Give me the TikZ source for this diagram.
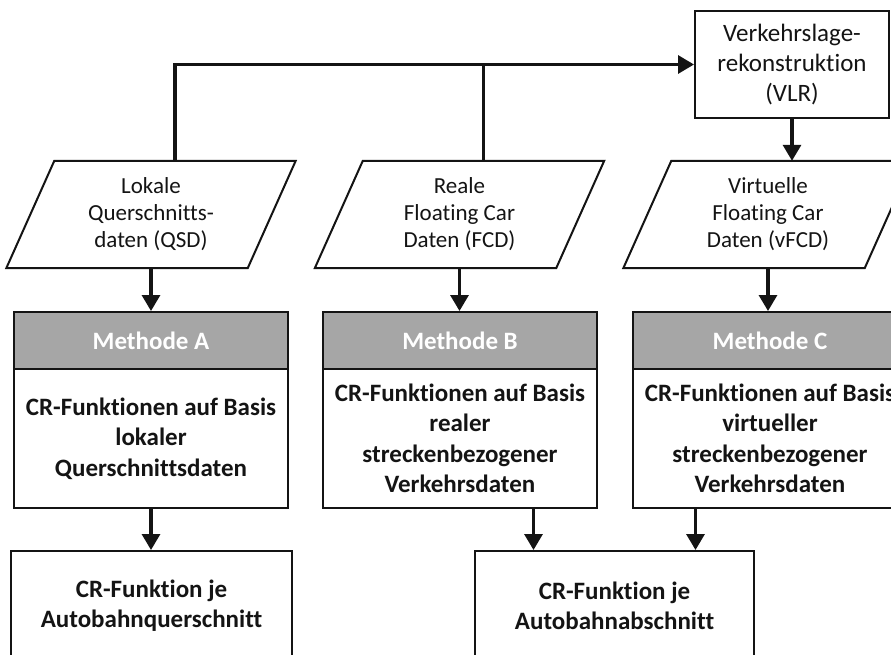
\documentclass[tikz,border=0pt]{standalone}
\usepackage{fontspec}
\setmainfont{Carlito}[Ligatures={NoCommon,NoContextual}]
\usetikzlibrary{arrows.meta}
\definecolor{ink}{HTML}{141414}
\definecolor{headgray}{HTML}{A6A6A6}
\begin{document}
\begin{tikzpicture}[x=1pt,y=-1pt,
  box/.style={draw=ink, line width=2pt, fill=white, inner sep=0pt, align=center},
  datanode/.style={inner sep=0pt, align=center, text=ink,
    font=\fontsize{23}{27}\selectfont, minimum width=241pt, minimum height=107pt},
  flow/.style={draw=ink, line width=3.2pt, -{Triangle[width=18pt,length=16pt]}},
  link/.style={draw=ink, line width=3.2pt},
  head/.style={box, fill=headgray, text=white, font=\bfseries\fontsize{25}{30}\selectfont,
    minimum width=274pt, minimum height=57pt},
  body/.style={box, text=ink, font=\bfseries\fontsize{25}{30.5}\selectfont,
    minimum width=274pt, minimum height=139pt},
  result/.style={box, text=ink, font=\bfseries\fontsize{25}{30}\selectfont,
    minimum width=281pt, minimum height=110pt},
]
\clip (0,0) rectangle (891,654);
\fill[white] (0,0) rectangle (891,654);

% traffic state reconstruction
\node[box, text=ink, font=\fontsize{25}{30}\selectfont,
  minimum width=194pt, minimum height=107pt] (vlr) at (792,64.5)
  {Verkehrslage-\\rekonstruktion\\(VLR)};

% input data (parallelograms)
\node[datanode] (qsd)  at (151,214.5)   {Lokale\\Querschnitts-\\daten (QSD)};
\node[datanode] (fcd)  at (459.5,214.5) {Reale\\Floating Car\\Daten (FCD)};
\node[datanode] (vfcd) at (768,214.5)   {Virtuelle\\Floating Car\\Daten (vFCD)};
\foreach \n in {qsd,fcd,vfcd}
  \draw[draw=ink, line width=2pt, line join=miter]
    ([xshift=24pt]\n.north west) -- ([xshift=24pt]\n.north east)
    -- ([xshift=-24pt]\n.south east) -- ([xshift=-24pt]\n.south west) -- cycle;

% methods
\node[head] (hA) at (151,340.5) {Methode A};
\node[body] (bA) at (151,438.5) {CR-Funktionen auf Basis\\lokaler\\Querschnittsdaten};
\node[head] (hB) at (460,340.5) {Methode B};
\node[body] (bB) at (460,438.5) {CR-Funktionen auf Basis\\realer\\streckenbezogener\\Verkehrsdaten};
\node[head] (hC) at (770,340.5) {Methode C};
\node[body] (bC) at (770,438.5) {CR-Funktionen auf Basis\\virtueller\\streckenbezogener\\Verkehrsdaten};

% results
\node[result] (oA) at (151.5,606) {CR-Funktion je\\Autobahnquerschnitt};
\node[result, minimum width=279pt] (oB) at (614.5,606) {CR-Funktion je\\Autobahnabschnitt};

% connectors
\draw[flow] ([xshift=24pt]qsd.north) |- (vlr.west);
\draw[link] ([xshift=24pt]fcd.north) -- ([xshift=24pt]fcd.north |- vlr.west);
\draw[flow] (vlr.south) -- (vlr.south |- vfcd.north);
\draw[flow] (qsd.south) -- (qsd.south |- hA.north);
\draw[flow] (fcd.south) -- (fcd.south |- hB.north);
\draw[flow] (vfcd.south) -- (vfcd.south |- hC.north);
\draw[flow] (bA.south) -- (bA.south |- oA.north);
\draw[flow] ([xshift=-81pt]oB.north |- bB.south) -- ([xshift=-81pt]oB.north);
\draw[flow] ([xshift=81pt]oB.north |- bC.south) -- ([xshift=81pt]oB.north);
\end{tikzpicture}
\end{document}
